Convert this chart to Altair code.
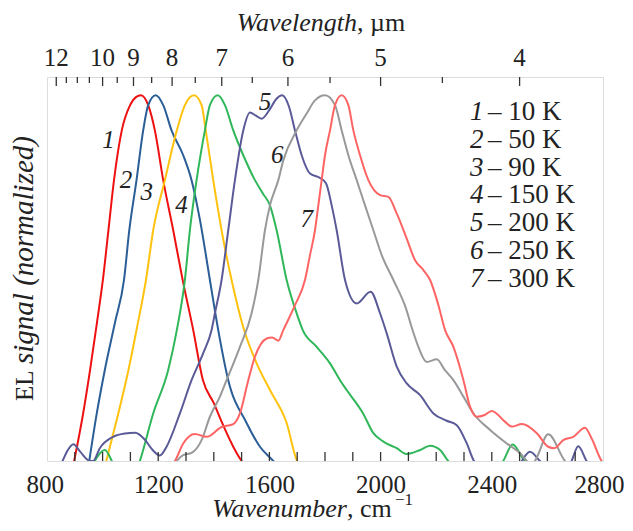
import altair as alt
import pandas as pd

# ---------------- data ----------------
c1_wn = [895, 930, 955, 980, 1001, 1021, 1041, 1069, 1099, 1120, 1138, 1164, 1188, 1218, 1254, 1288, 1326, 1361, 1400, 1430, 1470, 1500, 1510]
c1_v = [-0.01, 0.13, 0.249, 0.38, 0.495, 0.631, 0.768, 0.904, 0.973, 0.995, 1.0, 0.973, 0.904, 0.768, 0.631, 0.495, 0.358, 0.221, 0.158, 0.104, 0.039, 0.0, -0.01]

c2_wn = [950, 979, 1008, 1045, 1077, 1096, 1122, 1146, 1164, 1191, 1218, 1248, 1290, 1320, 1350, 1386, 1416, 1452, 1518, 1566, 1614, 1625]
c2_v = [-0.01, 0.13, 0.249, 0.38, 0.495, 0.631, 0.768, 0.904, 0.973, 1.0, 0.973, 0.904, 0.836, 0.768, 0.66, 0.495, 0.358, 0.221, 0.104, 0.039, 0.0, -0.01]

c3_wn = [1010, 1050, 1093, 1125, 1156, 1182, 1224, 1267, 1296, 1329, 1356, 1371, 1398, 1428, 1464, 1509, 1554, 1602, 1662, 1700, 1710]
c3_v = [-0.01, 0.11, 0.249, 0.37, 0.495, 0.631, 0.768, 0.904, 0.973, 1.0, 0.973, 0.904, 0.768, 0.631, 0.495, 0.358, 0.267, 0.194, 0.104, 0.0, -0.01]

c4_wn = [965, 972, 1008, 1033, 1050, 1120, 1134, 1182, 1236, 1267, 1296, 1314, 1338, 1368, 1386, 1414, 1440, 1470, 1506,
         1548, 1577, 1602, 1626, 1662, 1698, 1720, 1770, 1818, 1854, 1878, 1937, 1974, 2010, 2058, 2094, 2142, 2178, 2214,
         2243, 2300, 2400, 2441, 2475, 2519, 2540]
c4_v = [-0.01, 0.0, 0.03, 0.0, -0.03, -0.03, 0.0, 0.13, 0.249, 0.358, 0.495, 0.631, 0.768, 0.904, 0.973, 1.0, 0.973, 0.904, 0.836,
        0.768, 0.731, 0.699, 0.631, 0.495, 0.404, 0.358, 0.312, 0.267, 0.221, 0.194, 0.13, 0.076, 0.053, 0.035, 0.019, 0.03, 0.042, 0.03,
        0.0, -0.04, -0.04, 0.0, 0.045, 0.0, -0.01]

c5_wn = [850, 856, 875, 895, 920, 955, 966, 990, 1038, 1080, 1117, 1150, 1180, 1206, 1230, 1278, 1320, 1362, 1392, 1404, 1428,
         1452, 1476, 1506, 1530, 1550, 1572, 1600, 1625, 1646, 1670, 1692, 1716, 1746, 1782, 1804, 1824, 1842, 1872, 1914,
         1964, 1998, 2022, 2058, 2094, 2142, 2190, 2238, 2274, 2310, 2336, 2400, 2480, 2508, 2537, 2573, 2620, 2660, 2687,
         2711, 2741, 2750]
c5_v = [-0.01, 0.0, 0.03, 0.046, 0.025, 0.0, 0.0, 0.035, 0.066, 0.075, 0.077, 0.06, 0.03, 0.015, 0.039, 0.13, 0.221, 0.295, 0.358, 0.404, 0.495,
        0.631, 0.768, 0.904, 0.953, 0.945, 0.936, 0.96, 0.99, 1.0, 0.97, 0.904, 0.836, 0.786, 0.774, 0.759, 0.699, 0.631, 0.495, 0.431,
        0.463, 0.404, 0.349, 0.258, 0.212, 0.18, 0.13, 0.11, 0.098, 0.048, 0.0, -0.04, -0.04, 0.0, 0.025, 0.0, -0.04, -0.04, 0.0,
        0.04, 0.0, -0.01]

c6_wn = [1255, 1266, 1290, 1320, 1356, 1386, 1422, 1446, 1494, 1536, 1560, 1584, 1602, 1632, 1650, 1698, 1734, 1764, 1800, 1836,
         1860, 1884, 1914, 1944, 1974, 2004, 2046, 2090, 2115, 2136, 2166, 2202, 2230, 2262, 2298, 2334, 2394, 2454, 2502, 2526,
         2540, 2555, 2603, 2663, 2675]
c6_v = [-0.01, 0.0, 0.016, 0.022, 0.057, 0.121, 0.176, 0.221, 0.312, 0.404, 0.495, 0.631, 0.699, 0.768, 0.822, 0.904, 0.95, 0.986, 1.0, 0.973,
        0.904, 0.836, 0.768, 0.699, 0.631, 0.563, 0.495, 0.42, 0.358, 0.312, 0.271, 0.278, 0.25, 0.221, 0.176, 0.13, 0.085, 0.048, 0.021, 0.0,
        -0.01, 0.0, 0.073, 0.0, -0.01]

c7_wn = [1250, 1260, 1290, 1332, 1374, 1428, 1470, 1494, 1524, 1548, 1590, 1610, 1632, 1650, 1692, 1728, 1746, 1764, 1776, 1788,
         1800, 1818, 1836, 1860, 1884, 1902, 1926, 1956, 1998, 2028, 2058, 2094, 2124, 2154, 2178, 2208, 2232, 2262, 2298, 2322,
         2346, 2372, 2400, 2448, 2472, 2508, 2562, 2603, 2625, 2657, 2693, 2735, 2760, 2795, 2805]
c7_v = [-0.01, 0.0, 0.048, 0.074, 0.066, 0.093, 0.101, 0.13, 0.221, 0.285, 0.335, 0.338, 0.329, 0.358, 0.426, 0.495, 0.563, 0.631, 0.699, 0.768,
        0.836, 0.904, 0.973, 1.0, 0.973, 0.904, 0.836, 0.768, 0.727, 0.722, 0.677, 0.608, 0.549, 0.522, 0.495, 0.426, 0.358, 0.312, 0.221, 0.148,
        0.121, 0.125, 0.137, 0.107, 0.094, 0.101, 0.076, 0.039, 0.035, 0.057, 0.066, 0.091, 0.06, 0.0, -0.01]

curve_ids = ["1", "2", "3", "4", "5", "6", "7"]
temps = ["10 K", "50 K", "90 K", "150 K", "200 K", "250 K", "300 K"]
colors = ["#ee1111", "#2b5e96", "#ffc20e", "#2fb75a", "#5a5a98", "#999999", "#ff6464"]

label_wn = [1021, 1084, 1159, 1284, 1584, 1628, 1734]
label_v = [0.877, 0.768, 0.736, 0.70, 0.982, 0.836, 0.663]

bottom_labels = [800, 1200, 1600, 2000, 2400, 2800]
bottom_ticks = [900, 1000, 1100, 1200, 1300, 1400, 1500, 1600, 1700, 1800, 1900, 2000, 2100, 2200, 2300, 2400, 2500, 2600, 2700]
top_major = [12, 10, 9, 8, 7, 6, 5, 4]
top_minor = [11.5, 11, 10.5, 9.5, 8.5, 7.5, 6.5, 5.5, 4.5]

FONT = "Liberation Serif"
INK = "#222222"
W, H = 556, 384

# ---------------- build tables ----------------
rows = []
for cid, wn, v in zip(curve_ids, [c1_wn, c2_wn, c3_wn, c4_wn, c5_wn, c6_wn, c7_wn],
                      [c1_v, c2_v, c3_v, c4_v, c5_v, c6_v, c7_v]):
    for i, (a, b) in enumerate(zip(wn, v)):
        rows.append({"wn": a, "v": b, "curve": cid, "order": i})
df = pd.DataFrame(rows)

xscale = alt.Scale(domain=[800, 2800], nice=False, zero=False)
yscale = alt.Scale(domain=[0, 1.05], nice=False, zero=False)

lines = alt.Chart(df).mark_line(strokeWidth=2, clip=True, interpolate="monotone").encode(
    x=alt.X("wn:Q", scale=xscale, title=None,
            axis=alt.Axis(values=bottom_labels, format="d", grid=False, domain=False, ticks=False, tickSize=0,
                          labelFont=FONT, labelFontSize=25, labelColor=INK, labelPadding=11,
                          labelFlush=True, labelFlushOffset=21, labelOverlap=False)),
    y=alt.Y("v:Q", scale=yscale, axis=None),
    color=alt.Color("curve:N", scale=alt.Scale(domain=curve_ids, range=colors), legend=None),
    order="order:Q",
    detail="curve:N",
)

labels = alt.Chart(pd.DataFrame({"wn": label_wn, "v": label_v, "t": curve_ids})).mark_text(
    font=FONT, fontSize=25, fontStyle="italic", color=INK, align="center", baseline="middle"
).encode(x=alt.X("wn:Q", scale=xscale), y=alt.Y("v:Q", scale=yscale), text="t:N")

bticks = alt.Chart(pd.DataFrame({"wn": bottom_ticks})).mark_rule(color="#333", strokeWidth=1.3).encode(
    x=alt.X("wn:Q", scale=xscale), y=alt.value(H), y2=alt.value(H - 9))

tmaj = alt.Chart(pd.DataFrame({"lam": top_major})).transform_calculate(wn="10000/datum.lam").mark_rule(
    color="#333", strokeWidth=1.3).encode(x=alt.X("wn:Q", scale=xscale), y=alt.value(0), y2=alt.value(9))
tmin = alt.Chart(pd.DataFrame({"lam": top_minor})).transform_calculate(wn="10000/datum.lam").mark_rule(
    color="#333", strokeWidth=1.3).encode(x=alt.X("wn:Q", scale=xscale), y=alt.value(0), y2=alt.value(6))
tlab = alt.Chart(pd.DataFrame({"lam": top_major})).transform_calculate(
    wn="10000/datum.lam", t="format(datum.lam, 'd')").mark_text(
    font=FONT, fontSize=25, color=INK, align="center", baseline="alphabetic").encode(
    x=alt.X("wn:Q", scale=xscale), y=alt.value(-11), text="t:N")

leg = pd.DataFrame({"i": list(range(7)), "num": curve_ids, "rest": ["\u2013 " + t for t in temps]})
leg_num = alt.Chart(leg).transform_calculate(py="43 + datum.i * 27.8").mark_text(
    font=FONT, fontSize=27, fontStyle="italic", color=INK, align="left", baseline="alphabetic").encode(
    x=alt.value(423), y=alt.Y("py:Q", scale=None), text="num:N")
leg_rest = alt.Chart(leg).transform_calculate(py="43 + datum.i * 27.8").mark_text(
    font=FONT, fontSize=27, color=INK, align="left", baseline="alphabetic").encode(
    x=alt.value(441), y=alt.Y("py:Q", scale=None), text="rest:N")

def txt(s, x, y, size=25, style="normal", align="left", angle=0):
    return alt.Chart(pd.DataFrame({"t": [s]})).mark_text(
        font=FONT, fontSize=size, fontStyle=style, color=INK, align=align, baseline="alphabetic", angle=angle
    ).encode(x=alt.value(x), y=alt.value(y), text="t:N")

titles = [
    txt("Wavenumber", 300, 440, size=26, style="italic", align="right"),
    txt(", cm", 300, 440, size=26),
    txt("\u22121", 348, 428, size=17),
    txt("Wavelength", 310, -46, size=26, style="italic", align="right"),
    txt(", \u00b5m", 310, -46, size=26),
    txt("EL", -14, 324, size=25, angle=270),
    txt("signal (normalized)", -14, 287, size=29, style="italic", angle=270),
]

chart = alt.layer(lines, labels, bticks, tmaj, tmin, tlab, leg_num, leg_rest, *titles).properties(
    width=W, height=H,
    padding={"left": 39, "top": 69, "right": 22, "bottom": 62},
    autosize=alt.AutoSizeParams(type="none"),
).configure_view(stroke="#333333", strokeWidth=2).configure(font=FONT)

chart.save("out.html", embed_options={"renderer": "svg", "actions": False})
